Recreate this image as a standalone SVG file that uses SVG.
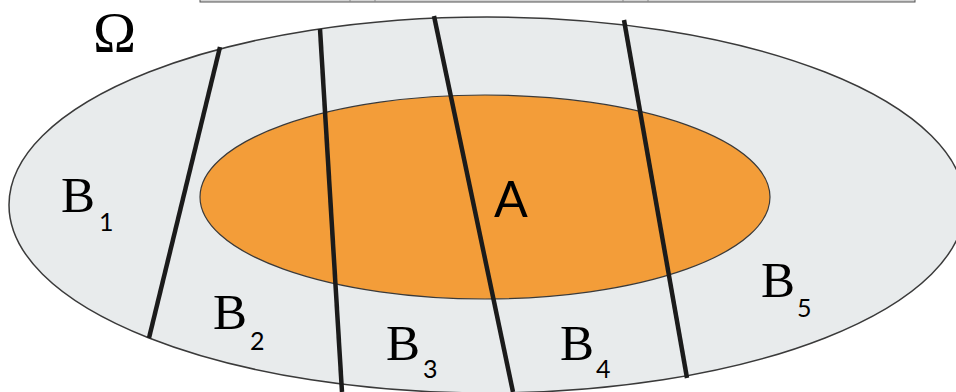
<svg xmlns="http://www.w3.org/2000/svg" width="956" height="392" viewBox="0 0 956 392">
<style>
.cut{stroke:#1b1b1b;stroke-width:4.5;stroke-linecap:butt;fill:none}
.b{font-family:"Liberation Serif","Times New Roman",serif;font-size:51px;fill:#000}
.s{font-family:Lato,"Open Sans",sans-serif;font-size:25px;fill:#000}
</style>
<rect width="956" height="392" fill="#ffffff"/>
<g id="topbar">
<rect x="200" y="-2" width="715" height="4" fill="#d4d4d4" stroke="#555" stroke-width="1"/>
<line x1="350" y1="0" x2="350" y2="2" stroke="#888" stroke-width="1"/>
<line x1="375" y1="0" x2="375" y2="2" stroke="#888" stroke-width="1"/>
<line x1="623" y1="0" x2="623" y2="2" stroke="#888" stroke-width="1"/>
<line x1="648" y1="0" x2="648" y2="2" stroke="#888" stroke-width="1"/>
</g>
<g id="omega">
<ellipse cx="487" cy="205" rx="478" ry="188" fill="#e8ebec" stroke="#3a3a3a" stroke-width="1.5"/>
<text x="93" y="52" font-family="'Liberation Serif','Times New Roman',serif" font-size="58" fill="#000">Ω</text>
</g>
<g id="A">
<ellipse cx="485" cy="197" rx="285" ry="102" fill="#f39d39" stroke="#3a3a3a" stroke-width="1.2"/>
<text x="494" y="217" font-family="Lato,'Open Sans',sans-serif" font-size="50" fill="#000">A</text>
</g>
<g id="cuts">
<line class="cut" x1="220" y1="47" x2="149" y2="338"/>
<line class="cut" x1="320" y1="29" x2="342" y2="392"/>
<line class="cut" x1="434" y1="16" x2="513" y2="392"/>
<line class="cut" x1="624" y1="20" x2="687" y2="378"/>
</g>
<g id="B1"><text x="61" y="212" class="b">B</text><text x="99" y="231" class="s">1</text></g>
<g id="B2"><text x="213" y="329" class="b">B</text><text x="250" y="350" class="s">2</text></g>
<g id="B3"><text x="386" y="360" class="b">B</text><text x="423" y="378" class="s">3</text></g>
<g id="B4"><text x="560" y="360" class="b">B</text><text x="596" y="378" class="s">4</text></g>
<g id="B5"><text x="761" y="297" class="b">B</text><text x="797" y="317" class="s">5</text></g>
</svg>
